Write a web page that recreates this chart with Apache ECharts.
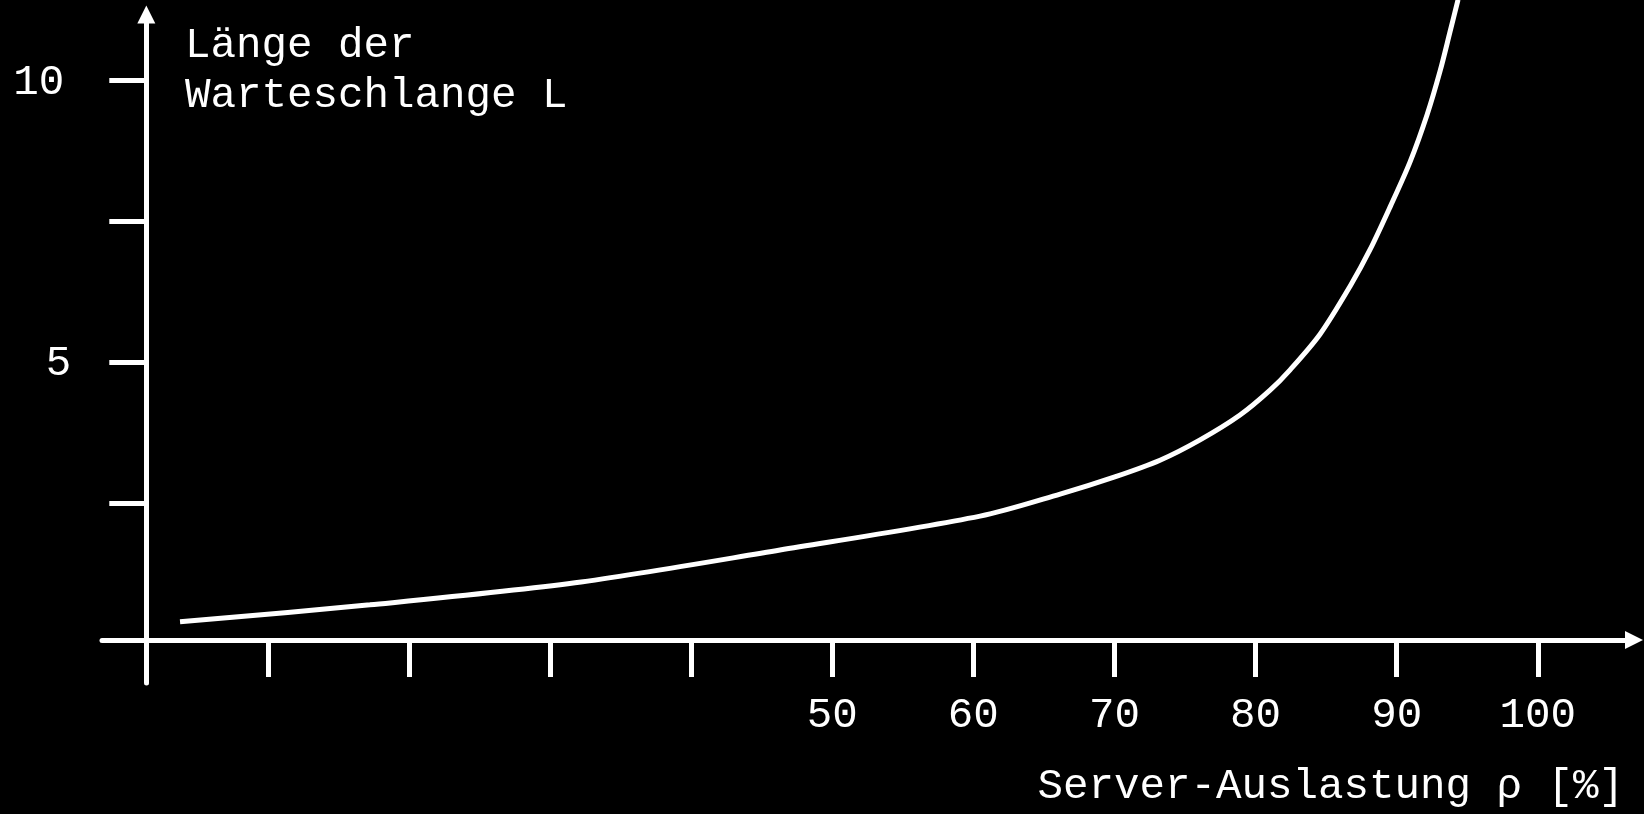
<!DOCTYPE html>
<html>
<head>
<meta charset="utf-8">
<script src="https://cdn.jsdelivr.net/npm/echarts@6/dist/echarts.min.js"></script>
<style>
html,body{margin:0;padding:0;background:#000;}
#chart{width:1644px;height:814px;}
</style>
</head>
<body>
<div id="chart"></div>
<script>
// Data
const utilisation = [3.78, 17.24, 31.77, 46.30, 60.48, 66.15, 69.97, 73.23, 76.07, 78.90, 81.03, 82.45, 84.57, 86.70, 88.12, 89.53, 90.95, 92.15, 93.08, 93.78, 94.35];
const queueLength = [0.41, 0.71, 1.10, 1.68, 2.28, 2.67, 2.97, 3.27, 3.63, 4.07, 4.51, 4.87, 5.50, 6.35, 7.00, 7.75, 8.55, 9.38, 10.16, 10.85, 11.42];
const xTickValues = [10, 20, 30, 40, 50, 60, 70, 80, 90, 100];
const xLabelValues = [50, 60, 70, 80, 90, 100];
const yTickValues = [2.5, 5, 7.5, 10];
const yLabelValues = [5, 10];
const yTitle = 'Länge der\nWarteschlange L';
const xTitle = 'Server-Auslastung ρ [%]';

const FONT = 'Liberation Mono';
const WHITE = '#ffffff';
const FS = 42.5;
const points = utilisation.map((x, i) => [x, queueLength[i]]);

const chart = echarts.init(document.getElementById('chart'));
chart.setOption({
  backgroundColor: '#000000',
  animation: false,
  title: [
    {
      text: yTitle, left: 185, top: 21, padding: 0,
      textStyle: { fontFamily: FONT, fontSize: FS, fontWeight: 'normal', color: WHITE, lineHeight: 50 }
    },
    {
      text: xTitle, right: 20, top: 765, padding: 0,
      textStyle: { fontFamily: FONT, fontSize: FS, fontWeight: 'normal', color: WHITE, lineHeight: 44 }
    }
  ],
  grid: { left: 102, right: 10, top: 14.5, bottom: 131, containLabel: false },
  xAxis: {
    type: 'value',
    min: -1.75, max: 106.82,
    offset: -43,
    axisLine: { show: true, lineStyle: { color: WHITE, width: 5 }, symbol: ['none', 'triangle'], symbolSize: [18, 18], onZero: false },
    axisTick: { show: true, customValues: xTickValues, length: 37, lineStyle: { color: WHITE, width: 5 } },
    axisLabel: {
      customValues: xLabelValues, margin: 76, verticalAlign: 'middle',
      fontFamily: FONT, fontSize: FS, color: WHITE
    },
    splitLine: { show: false }
  },
  yAxis: {
    type: 'value',
    min: -0.673, max: 11.159,
    offset: -44.3,
    axisLine: { show: true, lineStyle: { color: WHITE, width: 5 }, symbol: ['none', 'triangle'], symbolSize: [18, 18], onZero: false },
    axisTick: { show: true, customValues: yTickValues, length: 37, lineStyle: { color: WHITE, width: 5 } },
    axisLabel: {
      customValues: yLabelValues, margin: 75, align: 'right', verticalAlign: 'middle',
      fontFamily: FONT, fontSize: FS, color: WHITE,
      formatter: v => (v === 10 ? '{a|10}' : '{b|' + v + '}'),
      rich: {
        a: { fontFamily: FONT, fontSize: FS, color: WHITE, padding: [6, 7, 0, 0] },
        b: { fontFamily: FONT, fontSize: FS, color: WHITE, padding: [2, 0, 0, 0] }
      }
    },
    splitLine: { show: false }
  },
  series: [{
    type: 'line',
    data: points,
    smooth: 0.3,
    showSymbol: false,
    clip: false,
    lineStyle: { color: WHITE, width: 5 }
  }]
});
</script>
</body>
</html>
